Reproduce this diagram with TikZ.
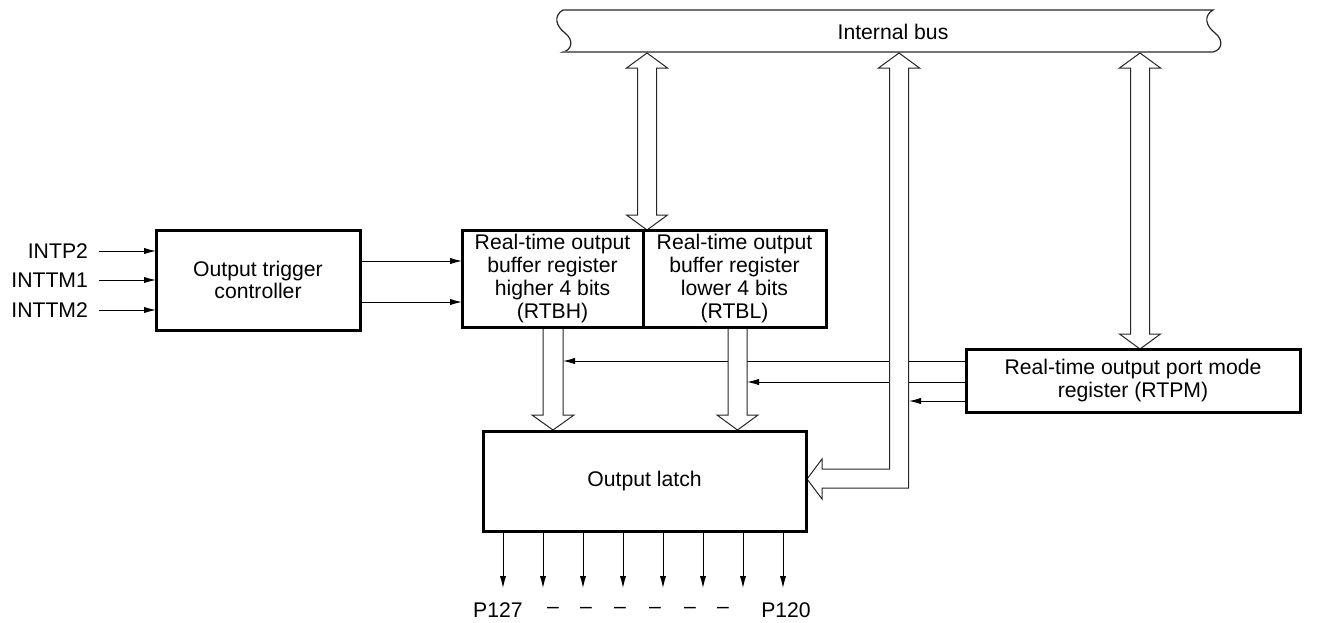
\documentclass[tikz,border=0pt]{standalone}
\usepackage{fontspec}
\setmainfont{Liberation Sans}
\usetikzlibrary{arrows.meta}
\begin{document}
\begin{tikzpicture}[x=0.5pt,y=-0.5pt,
  lbl/.style={font=\fontsize{10.6}{11.4}\selectfont},
  box/.style={draw,line width=1.5pt,inner sep=0pt,outer sep=0pt,align=center,lbl},
  frame/.style={line width=1.5pt},
  sig/.style={line width=0.5pt,-{Latex[length=6pt,width=3.2pt]}},
  hollow/.style={draw=black!85,line width=0.5pt,fill=white,line join=miter}]
\useasboundingbox (0,0) rectangle (1318,622);

% internal bus
\path[fill=white,draw=black!85,line width=0.6pt]
  (563,10) -- (1213,10)
  .. controls (1203,16) and (1206,26) .. (1215,33)
  .. controls (1224,40) and (1222,50) .. (1213,52)
  -- (563,52)
  .. controls (572,50) and (574,40) .. (565,33)
  .. controls (556,26) and (553,16) .. (563,10) -- cycle;
\draw[black!55,line width=1.1pt] (563,52) -- (1213,52);
\node[lbl] (bus) at (893,32) {Internal bus};

% coordinates for signal rows
\coordinate (y261) at (0,261);
\coordinate (y302) at (0,302);
\coordinate (y361) at (0,361);
\coordinate (y382) at (0,382);
\coordinate (y401) at (0,401);
\coordinate (x563) at (563,0);
\coordinate (x747) at (747,0);
\coordinate (x909) at (909,0);

% boxes
\node[box,minimum width=102pt,minimum height=50pt] (otc) at (258,280) {Output trigger\\controller};
\node[box,minimum width=90.5pt,minimum height=48.5pt] (rtbh) at (552.5,278.5) {Real-time output\\buffer register\\higher 4 bits\\(RTBH)};
\node[box,minimum width=91.5pt,minimum height=48.5pt] (rtbl) at (734.5,278.5) {Real-time output\\buffer register\\lower 4 bits\\(RTBL)};
\node[box,minimum width=161.5pt,minimum height=50pt] (latch) at (644.5,481) {Output latch};
\node[box,minimum width=167pt,minimum height=31.5pt] (rtpm) at (1133,380.5) {Real-time output port mode\\register (RTPM)};

% inputs
\node[lbl,anchor=east] (intp2) at (95,251) {INTP2};
\node[lbl,anchor=east] (inttm1) at (95,280) {INTTM1};
\node[lbl,anchor=east] (inttm2) at (95,310) {INTTM2};
\foreach \n in {intp2,inttm1,inttm2}
  \draw[sig] ([xshift=2pt]\n.east) -- (\n -| otc.west);

% controller to RTBH
\draw[sig] (otc.east |- y261) -- (rtbh.west |- y261);
\draw[sig] (otc.east |- y302) -- (rtbh.west |- y302);

% RTPM control lines
\draw[sig] (rtpm.west |- y361) -- (x563 |- y361);
\draw[sig] (rtpm.west |- y382) -- (x747 |- y382);
\draw[sig] (rtpm.west |- y401) -- (x909 |- y401);

% hollow bus arrows
\path[hollow] (647,53) -- (667.5,68) -- (656.5,68) -- (656.5,215) -- (667.5,215) -- (647,230)
  -- (626.5,215) -- (637.5,215) -- (637.5,68) -- (626.5,68) -- cycle;
\path[hollow] (1140,53) -- (1160.5,68) -- (1149.5,68) -- (1149.5,334) -- (1160.5,334) -- (1140,349)
  -- (1119.5,334) -- (1130.5,334) -- (1130.5,68) -- (1119.5,68) -- cycle;
\path[hollow] (899,53) -- (919.5,68) -- (908.5,68) -- (908.5,488) -- (822,488) -- (822,499)
  -- (807,479) -- (822,459) -- (822,469) -- (889.5,469) -- (889.5,68) -- (878.5,68) -- cycle;

% hollow down arrows
\path[hollow] (543,328) -- (543,415) -- (532,415) -- (553,430) -- (574,415) -- (563,415) -- (563,328);
\path[hollow] (728,328) -- (728,415) -- (717,415) -- (737.5,430) -- (758,415) -- (747,415) -- (747,328);

% box borders on top
\foreach \b in {otc,rtbh,rtbl,latch,rtpm}
  \draw[frame] (\b.north west) rectangle (\b.south east);

% outputs
\foreach \i in {0,...,7} {
  \coordinate (o\i) at (503+40*\i,588);
  \draw[sig] (o\i |- latch.south) -- (o\i);
}
\node[lbl] (p127) at (498,610) {P127};
\node[lbl] (p120) at (786,610) {P120};
\foreach \x [count=\k] in {553,586,620,655,690,723}
  \node[lbl] (d\k) at (\x,610) {--};
\end{tikzpicture}
\end{document}
